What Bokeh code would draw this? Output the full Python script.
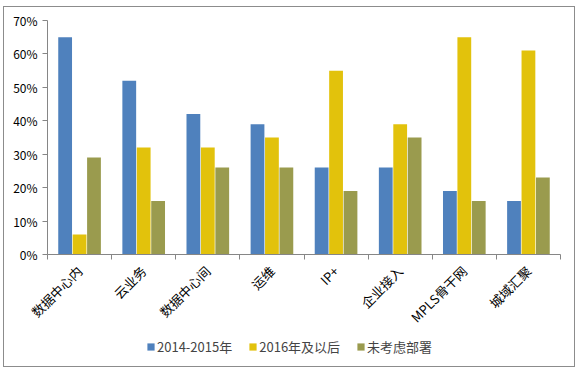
import math
from bokeh.plotting import figure
from bokeh.layouts import column
from bokeh.models import (ColumnDataSource, Range1d, FixedTicker, PrintfTickFormatter,
                          Legend, LegendItem)
from bokeh.transform import dodge
from bokeh.embed import file_html
from bokeh.resources import INLINE

categories = ["数据中心内", "云业务", "数据中心间", "运维", "IP+", "企业接入", "MPLS骨干网", "城域汇聚"]
series_names = ["2014-2015年", "2016年及以后", "未考虑部署"]
s2014 = [65, 52, 42, 39, 26, 26, 19, 16]
s2016 = [6, 32, 32, 35, 55, 39, 65, 61]
snone = [29, 16, 26, 26, 19, 35, 16, 23]
y_ticks = [0, 10, 20, 30, 40, 50, 60, 70]
colors = ["#4F81BD", "#E2C20C", "#9A9B4E"]

FONT = "Noto Sans CJK SC"
idx = list(range(len(categories)))
src = ColumnDataSource(dict(x=idx, a=s2014, b=s2016, c=snone))
keys = ["a", "b", "c"]
offsets = [-0.225, 0, 0.225]

W = 570
p = figure(width=W, height=329, output_backend="svg", toolbar_location=None,
           x_range=Range1d(-0.5, len(categories) - 0.5), y_range=Range1d(0, 70))
p.min_border_left = 43
p.min_border_right = 14
p.min_border_top = 13
p.min_border_bottom = 79
p.outline_line_color = None
p.grid.visible = False

for key, off, col in zip(keys, offsets, colors):
    p.vbar(x=dodge("x", off), top=key, width=0.215, source=src,
           fill_color=col, line_color=None)

xa = p.xaxis[0]
xa.ticker = FixedTicker(ticks=idx, minor_ticks=[i - 0.5 for i in range(len(categories) + 1)])
xa.major_label_overrides = {i: c for i, c in enumerate(categories)}
xa.major_label_orientation = math.pi / 4
xa.major_tick_line_color = None
xa.minor_tick_in = 0
xa.minor_tick_out = 5
xa.minor_tick_line_color = "#868686"
xa.axis_line_color = "#868686"
xa.major_label_text_font = FONT
xa.major_label_text_font_size = "13px"
xa.major_label_text_color = "#000000"
xa.major_label_standoff = 8

ya = p.yaxis[0]
ya.ticker = FixedTicker(ticks=y_ticks)
ya.formatter = PrintfTickFormatter(format="%d%%")
ya.minor_tick_line_color = None
ya.major_tick_in = 0
ya.major_tick_out = 5
ya.major_tick_line_color = "#868686"
ya.axis_line_color = "#868686"
ya.major_label_text_font = FONT
ya.major_label_text_font_size = "12px"
ya.major_label_text_color = "#000000"

# legend strip (hidden copies of the series supply the legend swatches)
pl = figure(width=W, height=30, output_backend="svg", toolbar_location=None,
            x_range=Range1d(-0.5, len(categories) - 0.5), y_range=Range1d(0, 70))
pl.axis.visible = False
pl.grid.visible = False
pl.outline_line_color = None
pl.min_border = 0
lr = []
for key, off, col in zip(keys, offsets, colors):
    rr = pl.vbar(x=dodge("x", off), top=key, width=0.215, source=src,
                 fill_color=col, line_color=None)
    rr.visible = False
    lr.append(rr)
legend = Legend(items=[LegendItem(label=n, renderers=[rr]) for n, rr in zip(series_names, lr)],
                orientation="horizontal", location=(99, 10))
legend.label_text_font = FONT
legend.label_text_font_size = "13px"
legend.glyph_width = 9
legend.glyph_height = 9
legend.spacing = 16
legend.label_standoff = 2
legend.border_line_color = None
legend.background_fill_alpha = 0
legend.inactive_fill_alpha = 0
legend.padding = 0
legend.margin = 0
pl.add_layout(legend)

layout = column(p, pl, spacing=0,
                styles={"border": "1px solid #8c8c8c", "margin-left": "3px", "margin-top": "6px"})
open("out.html", "w").write(file_html(layout, INLINE))
